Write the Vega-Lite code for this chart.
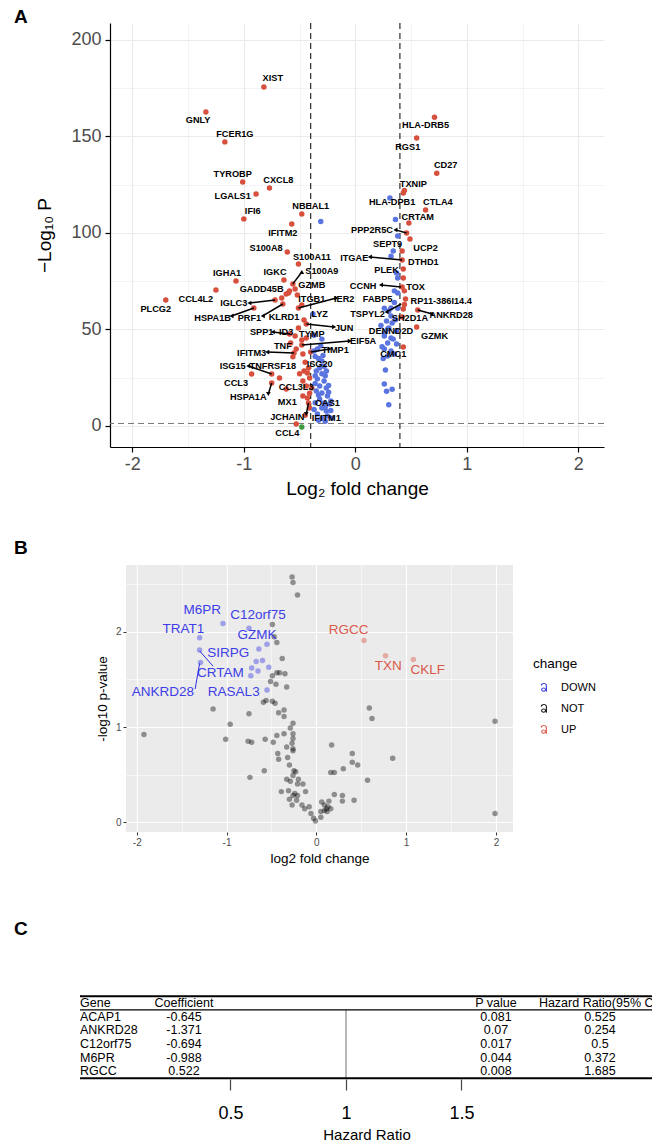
{
"$schema": "https://vega.github.io/schema/vega-lite/v6.json",
"background": "white",
"padding": {"left": 14, "top": 7, "right": 0, "bottom": 0},
"config": {
  "font": "Liberation Sans",
  "view": {"stroke": null},
  "axis": {"labelFont": "Liberation Sans", "titleFont": "Liberation Sans", "titleFontWeight": "normal"},
  "title": {"font": "Liberation Sans", "color": "#000000"},
  "text": {"font": "Liberation Sans"}
},
"datasets": {
  "aPts": [
    {"x":-0.82,"y":175.6,"g":"PL"},{"x":-1.34,"y":162.7,"g":"PL"},{"x":-1.17,"y":147.2,"g":"PL"},{"x":-1.01,"y":126.4,"g":"PL"},{"x":-0.77,"y":123.3,"g":"PL"},{"x":-0.89,"y":120.2,"g":"PL"},{"x":-1.0,"y":107.3,"g":"PL"},{"x":-0.48,"y":109.8,"g":"PL"},{"x":-0.57,"y":104.7,"g":"PL"},{"x":-0.61,"y":90.2,"g":"PL"},{"x":-0.51,"y":83.9,"g":"PL"},{"x":-1.07,"y":75.1,"g":"PL"},{"x":-0.64,"y":75.6,"g":"PL"},{"x":-0.56,"y":73.6,"g":"PL"},{"x":-0.6,"y":68.9,"g":"PL"},{"x":-0.54,"y":71,"g":"PL"},{"x":-1.25,"y":70.5,"g":"PL"},{"x":-1.7,"y":65.3,"g":"PL"},{"x":-0.72,"y":65.3,"g":"PL"},{"x":-0.91,"y":61.1,"g":"PL"},{"x":-0.65,"y":63.2,"g":"PL"},{"x":-0.51,"y":61.1,"g":"PL"},{"x":-0.44,"y":52.8,"g":"PL"},{"x":-0.59,"y":47.7,"g":"PL"},{"x":-0.54,"y":46.6,"g":"PL"},{"x":-0.48,"y":42,"g":"PL"},{"x":-0.4,"y":38.3,"g":"PL"},{"x":-0.55,"y":37.8,"g":"PL"},{"x":-0.75,"y":26.9,"g":"PL"},{"x":-0.93,"y":26.9,"g":"PL"},{"x":-0.75,"y":22.3,"g":"PL"},{"x":-0.68,"y":24.9,"g":"PL"},{"x":-0.62,"y":19.2,"g":"PL"},{"x":-0.42,"y":11.9,"g":"PL"},{"x":-0.53,"y":1.0,"g":"PL"},
    {"x":-0.66,"y":66.3,"g":"PL"},{"x":-0.62,"y":68.4,"g":"PL"},{"x":-0.59,"y":69.9,"g":"PL"},{"x":-0.52,"y":67.9,"g":"PL"},{"x":-0.48,"y":62.7,"g":"PL"},{"x":-0.46,"y":54.9,"g":"PL"},{"x":-0.51,"y":50.8,"g":"PL"},{"x":-0.44,"y":45.6,"g":"PL"},{"x":-0.48,"y":44.6,"g":"PL"},{"x":-0.53,"y":39.9,"g":"PL"},{"x":-0.47,"y":37.3,"g":"PL"},{"x":-0.56,"y":35.8,"g":"PL"},{"x":-0.46,"y":28.5,"g":"PL"},{"x":-0.5,"y":27,"g":"PL"},{"x":-0.43,"y":27.5,"g":"PL"},{"x":-0.41,"y":24.9,"g":"PL"},{"x":-0.47,"y":23.3,"g":"PL"},{"x":-0.44,"y":20.7,"g":"PL"},{"x":-0.39,"y":19.7,"g":"PL"},{"x":-0.47,"y":15.5,"g":"PL"},{"x":-0.43,"y":14.5,"g":"PL"},{"x":-0.41,"y":9.3,"g":"PL"},{"x":-0.45,"y":33,"g":"PL"},{"x":-0.42,"y":30,"g":"PL"},{"x":-0.58,"y":43,"g":"PL"},{"x":-0.41,"y":17,"g":"PL"},{"x":-0.45,"y":5.5,"g":"PL"},
    {"x":0.71,"y":160,"g":"PL"},{"x":0.55,"y":149.2,"g":"PL"},{"x":0.73,"y":131,"g":"PL"},{"x":0.43,"y":120.7,"g":"PL"},{"x":0.44,"y":122,"g":"PL"},{"x":0.63,"y":111.9,"g":"PL"},{"x":0.48,"y":105.2,"g":"PL"},{"x":0.46,"y":100,"g":"PL"},{"x":0.49,"y":96.9,"g":"PL"},{"x":0.42,"y":90.7,"g":"PL"},{"x":0.42,"y":86,"g":"PL"},{"x":0.43,"y":81.3,"g":"PL"},{"x":0.43,"y":76.7,"g":"PL"},{"x":0.42,"y":72,"g":"PL"},{"x":0.44,"y":70,"g":"PL"},{"x":0.45,"y":65.8,"g":"PL"},{"x":0.43,"y":60.6,"g":"PL"},{"x":0.56,"y":60.1,"g":"PL"},{"x":0.42,"y":56.5,"g":"PL"},{"x":0.55,"y":51.3,"g":"PL"},{"x":0.43,"y":40.9,"g":"PL"},{"x":0.44,"y":63,"g":"PL"},
    {"x":-0.48,"y":-0.5,"g":"L"},
    {"x":-0.31,"y":106,"g":"P"},{"x":-0.38,"y":58,"g":"P"},{"x":-0.3,"y":45,"g":"P"},{"x":-0.37,"y":38.9,"g":"P"},{"x":-0.34,"y":39.9,"g":"P"},{"x":-0.3,"y":33.7,"g":"P"},{"x":-0.32,"y":30,"g":"P"},{"x":-0.35,"y":28.5,"g":"P"},{"x":-0.3,"y":27,"g":"P"},{"x":-0.34,"y":24.4,"g":"P"},{"x":-0.28,"y":23.3,"g":"P"},{"x":-0.32,"y":20.7,"g":"P"},{"x":-0.26,"y":19.7,"g":"P"},{"x":-0.35,"y":18.1,"g":"P"},{"x":-0.3,"y":17.1,"g":"P"},{"x":-0.25,"y":15.5,"g":"P"},{"x":-0.32,"y":14,"g":"P"},{"x":-0.28,"y":11.9,"g":"P"},{"x":-0.23,"y":11.4,"g":"P"},{"x":-0.3,"y":9.3,"g":"P"},{"x":-0.26,"y":7.8,"g":"P"},{"x":-0.34,"y":6.2,"g":"P"},{"x":-0.25,"y":5.2,"g":"P"},{"x":-0.3,"y":4.1,"g":"P"},{"x":-0.36,"y":36,"g":"P"},{"x":-0.33,"y":35,"g":"P"},{"x":-0.28,"y":31,"g":"P"},{"x":-0.36,"y":22,"g":"P"},{"x":-0.24,"y":21,"g":"P"},{"x":-0.27,"y":26,"g":"P"},{"x":-0.33,"y":16,"g":"P"},{"x":-0.22,"y":13,"g":"P"},{"x":-0.36,"y":12,"g":"P"},{"x":-0.27,"y":9.8,"g":"P"},{"x":-0.22,"y":8,"g":"P"},{"x":-0.33,"y":3,"g":"P"},{"x":-0.27,"y":2.5,"g":"P"},{"x":-0.21,"y":4,"g":"P"},{"x":-0.37,"y":8.5,"g":"P"},{"x":-0.29,"y":36.5,"g":"P"},{"x":-0.31,"y":41.5,"g":"P"},{"x":-0.37,"y":47,"g":"P"},{"x":-0.24,"y":17.5,"g":"P"},{"x":-0.36,"y":26,"g":"P"},{"x":-0.26,"y":28.5,"g":"P"},
    {"x":0.26,"y":61,"g":"P"},{"x":0.3,"y":59.6,"g":"P"},{"x":0.28,"y":54.4,"g":"P"},{"x":0.33,"y":53.4,"g":"P"},{"x":0.29,"y":50.3,"g":"P"},{"x":0.37,"y":49.2,"g":"P"},{"x":0.26,"y":46.6,"g":"P"},{"x":0.32,"y":45.6,"g":"P"},{"x":0.29,"y":43,"g":"P"},{"x":0.37,"y":42.5,"g":"P"},{"x":0.26,"y":39.9,"g":"P"},{"x":0.32,"y":38.9,"g":"P"},{"x":0.35,"y":37.3,"g":"P"},{"x":0.29,"y":36.3,"g":"P"},{"x":0.27,"y":29,"g":"P"},{"x":0.26,"y":21.8,"g":"P"},{"x":0.28,"y":18,"g":"P"},{"x":0.33,"y":19,"g":"P"},{"x":0.3,"y":11,"g":"P"},{"x":0.31,"y":118.1,"g":"P"},{"x":0.36,"y":107,"g":"P"},{"x":0.38,"y":98.4,"g":"P"},{"x":0.34,"y":90.7,"g":"P"},{"x":0.32,"y":88,"g":"P"},{"x":0.37,"y":79.3,"g":"P"},{"x":0.38,"y":76.7,"g":"P"},{"x":0.35,"y":70,"g":"P"},{"x":0.38,"y":68.9,"g":"P"},{"x":0.32,"y":61.1,"g":"P"},{"x":0.32,"y":57,"g":"P"},{"x":0.3,"y":50.8,"g":"P"},{"x":0.26,"y":48.2,"g":"P"},{"x":0.35,"y":64,"g":"P"},{"x":0.24,"y":41,"g":"P"},{"x":0.36,"y":55,"g":"P"},{"x":0.23,"y":52,"g":"P"},{"x":0.34,"y":45,"g":"P"},{"x":0.25,"y":35,"g":"P"},{"x":0.38,"y":61,"g":"P"}
  ],
  "aLabels": [
    {"gene":"XIST","lx":-0.74,"ly":180.3},{"gene":"GNLY","lx":-1.41,"ly":158.5},{"gene":"FCER1G","lx":-1.08,"ly":151.3},{"gene":"TYROBP","lx":-1.1,"ly":130.6},{"gene":"CXCL8","lx":-0.69,"ly":127.5},{"gene":"LGALS1","lx":-1.1,"ly":119.2},{"gene":"IFI6","lx":-0.92,"ly":111.4},{"gene":"NBEAL1","lx":-0.4,"ly":114},{"gene":"IFITM2","lx":-0.65,"ly":100},{"gene":"S100A8","lx":-0.8,"ly":92.2},{"gene":"S100A11","lx":-0.39,"ly":87.6},{"gene":"IGHA1","lx":-1.15,"ly":79.3},{"gene":"IGKC","lx":-0.72,"ly":79.8},{"gene":"S100A9","lx":-0.3,"ly":80.3},{"gene":"GADD45B","lx":-0.84,"ly":71},{"gene":"GZMB","lx":-0.39,"ly":73.1},{"gene":"CCL4L2","lx":-1.43,"ly":65.8},{"gene":"PLCG2","lx":-1.79,"ly":60.6},{"gene":"IGLC3","lx":-1.09,"ly":63.7},{"gene":"HSPA1B","lx":-1.28,"ly":56},{"gene":"PRF1","lx":-0.95,"ly":56},{"gene":"KLRD1","lx":-0.64,"ly":56.5},{"gene":"ITGB1","lx":-0.39,"ly":65.8},{"gene":"IER2","lx":-0.1,"ly":65.8},{"gene":"LYZ","lx":-0.32,"ly":58},{"gene":"JUN","lx":-0.1,"ly":50.8},{"gene":"SPP1","lx":-0.84,"ly":48.7},{"gene":"ID3","lx":-0.62,"ly":48.7},{"gene":"TYMP","lx":-0.39,"ly":47.7},{"gene":"EIF5A","lx":0.07,"ly":44},{"gene":"DENND2D","lx":0.32,"ly":49.2},{"gene":"GZMK","lx":0.71,"ly":46.6},{"gene":"CMC1","lx":0.34,"ly":37.3},{"gene":"TNF","lx":-0.65,"ly":41.5},{"gene":"TIMP1","lx":-0.18,"ly":39.4},{"gene":"IFITM3","lx":-0.93,"ly":37.8},{"gene":"ISG15","lx":-1.1,"ly":31.1},{"gene":"TNFRSF18","lx":-0.74,"ly":31.1},{"gene":"ISG20","lx":-0.32,"ly":32.1},{"gene":"CCL3","lx":-1.07,"ly":22.3},{"gene":"CCL3L3","lx":-0.53,"ly":20.2},{"gene":"HSPA1A","lx":-0.96,"ly":15},{"gene":"MX1","lx":-0.61,"ly":12.4},{"gene":"OAS1","lx":-0.25,"ly":11.9},{"gene":"JCHAIN","lx":-0.61,"ly":4.7},{"gene":"IFITM1","lx":-0.26,"ly":4.1},{"gene":"CCL4","lx":-0.61,"ly":-3.6},
    {"gene":"HLA-DRB5","lx":0.63,"ly":156},{"gene":"RGS1","lx":0.47,"ly":144.6},{"gene":"CD27","lx":0.81,"ly":135.2},{"gene":"TXNIP","lx":0.52,"ly":125.4},{"gene":"HLA-DPB1","lx":0.33,"ly":116},{"gene":"CTLA4","lx":0.74,"ly":116},{"gene":"CRTAM","lx":0.56,"ly":108.3},{"gene":"PPP2R5C","lx":0.15,"ly":101.6},{"gene":"SEPT9","lx":0.29,"ly":94.3},{"gene":"UCP2","lx":0.63,"ly":92.2},{"gene":"ITGAE","lx":-0.01,"ly":87},{"gene":"DTHD1","lx":0.61,"ly":85},{"gene":"PLEK","lx":0.28,"ly":80.8},{"gene":"CCNH","lx":0.07,"ly":72.5},{"gene":"TOX","lx":0.54,"ly":72},{"gene":"FABP5","lx":0.2,"ly":65.8},{"gene":"RP11-386I14.4","lx":0.77,"ly":64.8},{"gene":"TSPYL2","lx":0.11,"ly":58},{"gene":"SH2D1A","lx":0.49,"ly":56},{"gene":"ANKRD28","lx":0.86,"ly":57.5}
  ],
  "aArrows": [
    {"x":-0.56,"y":73.6,"ex":-0.48,"ey":79.8,"dir":"up"},{"x":-0.72,"y":65.3,"ex":-0.95,"ey":63.7,"dir":"left"},{"x":-0.91,"y":61.1,"ex":-1.11,"ey":57,"dir":"left"},{"x":-0.65,"y":63.2,"ex":-0.83,"ey":57,"dir":"left"},{"x":-0.51,"y":61.1,"ex":-0.17,"ey":66.3,"dir":"right"},{"x":-0.44,"y":52.8,"ex":-0.19,"ey":51.3,"dir":"right"},{"x":-0.59,"y":47.7,"ex":-0.74,"ey":48.7,"dir":"left"},{"x":-0.48,"y":42,"ex":-0.05,"ey":44,"dir":"right"},{"x":-0.4,"y":38.3,"ex":-0.23,"ey":39.9,"dir":"right"},{"x":-0.55,"y":37.8,"ex":-0.79,"ey":38.3,"dir":"left"},{"x":-0.75,"y":26.9,"ex":-0.96,"ey":31.1,"dir":"left"},{"x":-0.75,"y":22.3,"ex":-0.78,"ey":16.6,"dir":"down"},{"x":-0.42,"y":11.9,"ex":-0.44,"ey":6.2,"dir":"down"},{"x":0.46,"y":100,"ex":0.36,"ey":101.6,"dir":"left"},{"x":0.42,"y":86,"ex":0.13,"ey":87.6,"dir":"left"},{"x":0.41,"y":72,"ex":0.23,"ey":73.1,"dir":"left"},{"x":0.41,"y":63.2,"ex":0.28,"ey":59.1,"dir":"left"},{"x":0.56,"y":60.1,"ex":0.69,"ey":58,"dir":"right"}
  ],
  "bPts": [
    {"x":-1.3,"y":1.94,"change":"DOWN"},{"x":-1.04,"y":2.09,"change":"DOWN"},{"x":-0.75,"y":2.04,"change":"DOWN"},{"x":-1.3,"y":1.81,"change":"DOWN"},{"x":-1.29,"y":1.68,"change":"DOWN"},{"x":-0.55,"y":1.87,"change":"DOWN"},{"x":-0.64,"y":1.82,"change":"DOWN"},{"x":-0.67,"y":1.69,"change":"DOWN"},{"x":-0.6,"y":1.7,"change":"DOWN"},{"x":-0.53,"y":1.63,"change":"DOWN"},{"x":-0.72,"y":1.62,"change":"DOWN"},{"x":-0.65,"y":1.59,"change":"DOWN"},{"x":-0.73,"y":1.54,"change":"DOWN"},{"x":-0.55,"y":1.39,"change":"DOWN"},
    {"x":0.53,"y":1.91,"change":"UP"},{"x":0.77,"y":1.75,"change":"UP"},{"x":1.08,"y":1.71,"change":"UP"},
    {"x":-0.27,"y":2.58,"change":"NOT"},{"x":-0.26,"y":2.52,"change":"NOT"},{"x":-0.21,"y":2.39,"change":"NOT"},{"x":-0.49,"y":2.08,"change":"NOT"},{"x":-0.47,"y":1.95,"change":"NOT"},{"x":-0.44,"y":1.89,"change":"NOT"},{"x":-0.38,"y":1.72,"change":"NOT"},{"x":-0.44,"y":1.57,"change":"NOT"},{"x":-0.41,"y":1.57,"change":"NOT"},{"x":-0.35,"y":1.56,"change":"NOT"},{"x":-0.49,"y":1.54,"change":"NOT"},{"x":-0.51,"y":1.48,"change":"NOT"},{"x":-0.45,"y":1.45,"change":"NOT"},{"x":-0.33,"y":1.42,"change":"NOT"},{"x":-0.56,"y":1.28,"change":"NOT"},{"x":-0.59,"y":1.26,"change":"NOT"},{"x":-0.49,"y":1.27,"change":"NOT"},{"x":-0.46,"y":1.25,"change":"NOT"},{"x":-1.15,"y":1.19,"change":"NOT"},{"x":-0.75,"y":1.14,"change":"NOT"},{"x":-0.42,"y":1.15,"change":"NOT"},{"x":-0.36,"y":1.18,"change":"NOT"},{"x":-0.36,"y":1.11,"change":"NOT"},{"x":-0.96,"y":1.03,"change":"NOT"},{"x":-0.26,"y":1.04,"change":"NOT"},{"x":-0.29,"y":0.99,"change":"NOT"},{"x":-1.92,"y":0.92,"change":"NOT"},{"x":-0.26,"y":0.93,"change":"NOT"},{"x":-0.36,"y":0.93,"change":"NOT"},{"x":-0.44,"y":0.91,"change":"NOT"},{"x":-0.26,"y":0.88,"change":"NOT"},{"x":-1.01,"y":0.87,"change":"NOT"},{"x":-0.76,"y":0.85,"change":"NOT"},{"x":-0.72,"y":0.84,"change":"NOT"},{"x":-0.57,"y":0.87,"change":"NOT"},{"x":-0.48,"y":0.84,"change":"NOT"},{"x":-0.27,"y":0.83,"change":"NOT"},{"x":-0.33,"y":0.79,"change":"NOT"},{"x":-0.26,"y":0.77,"change":"NOT"},{"x":-0.26,"y":0.75,"change":"NOT"},{"x":-0.43,"y":0.72,"change":"NOT"},{"x":-0.42,"y":0.66,"change":"NOT"},{"x":-0.32,"y":0.68,"change":"NOT"},{"x":0.17,"y":0.81,"change":"NOT"},{"x":0.4,"y":0.72,"change":"NOT"},{"x":0.4,"y":0.63,"change":"NOT"},{"x":0.46,"y":0.6,"change":"NOT"},{"x":0.3,"y":0.56,"change":"NOT"},{"x":0.85,"y":0.67,"change":"NOT"},{"x":0.16,"y":0.52,"change":"NOT"},{"x":0.2,"y":0.52,"change":"NOT"},{"x":-0.58,"y":0.54,"change":"NOT"},{"x":-0.74,"y":0.47,"change":"NOT"},{"x":-0.3,"y":0.6,"change":"NOT"},{"x":-0.25,"y":0.54,"change":"NOT"},{"x":-0.23,"y":0.53,"change":"NOT"},{"x":-0.26,"y":0.49,"change":"NOT"},{"x":-0.33,"y":0.45,"change":"NOT"},{"x":-0.29,"y":0.43,"change":"NOT"},{"x":-0.2,"y":0.45,"change":"NOT"},{"x":-0.21,"y":0.4,"change":"NOT"},{"x":-0.15,"y":0.4,"change":"NOT"},{"x":0.57,"y":0.44,"change":"NOT"},{"x":-0.39,"y":0.32,"change":"NOT"},{"x":-0.31,"y":0.33,"change":"NOT"},{"x":-0.26,"y":0.28,"change":"NOT"},{"x":-0.21,"y":0.28,"change":"NOT"},{"x":-0.12,"y":0.32,"change":"NOT"},{"x":-0.24,"y":0.3,"change":"NOT"},{"x":-0.3,"y":0.24,"change":"NOT"},{"x":-0.22,"y":0.23,"change":"NOT"},{"x":-0.27,"y":0.18,"change":"NOT"},{"x":-0.16,"y":0.18,"change":"NOT"},{"x":-0.13,"y":0.14,"change":"NOT"},{"x":-0.08,"y":0.16,"change":"NOT"},{"x":-0.06,"y":0.09,"change":"NOT"},{"x":-0.03,"y":0.04,"change":"NOT"},{"x":-0.01,"y":0.01,"change":"NOT"},{"x":0.05,"y":0.05,"change":"NOT"},{"x":0.05,"y":0.11,"change":"NOT"},{"x":0.06,"y":0.21,"change":"NOT"},{"x":0.09,"y":0.18,"change":"NOT"},{"x":0.11,"y":0.14,"change":"NOT"},{"x":0.13,"y":0.16,"change":"NOT"},{"x":0.14,"y":0.22,"change":"NOT"},{"x":0.16,"y":0.14,"change":"NOT"},{"x":0.12,"y":0.11,"change":"NOT"},{"x":0.09,"y":0.12,"change":"NOT"},{"x":0.2,"y":0.29,"change":"NOT"},{"x":0.29,"y":0.28,"change":"NOT"},{"x":0.29,"y":0.22,"change":"NOT"},{"x":0.42,"y":0.23,"change":"NOT"},{"x":0.59,"y":1.2,"change":"NOT"},{"x":0.62,"y":1.09,"change":"NOT"},{"x":1.99,"y":1.06,"change":"NOT"},{"x":1.99,"y":0.09,"change":"NOT"}
  ],
  "bLabels": [
    {"gene":"M6PR","x":-1.27,"y":2.23,"change":"DOWN"},{"gene":"C12orf75","x":-0.65,"y":2.18,"change":"DOWN"},{"gene":"TRAT1","x":-1.48,"y":2.03,"change":"DOWN"},{"gene":"GZMK","x":-0.66,"y":1.97,"change":"DOWN"},{"gene":"SIRPG","x":-0.98,"y":1.78,"change":"DOWN"},{"gene":"CRTAM","x":-1.07,"y":1.57,"change":"DOWN"},{"gene":"ANKRD28","x":-1.71,"y":1.37,"change":"DOWN"},{"gene":"RASAL3","x":-0.92,"y":1.37,"change":"DOWN"},{"gene":"RGCC","x":0.36,"y":2.02,"change":"UP"},{"gene":"TXN","x":0.8,"y":1.64,"change":"UP"},{"gene":"CKLF","x":1.24,"y":1.6,"change":"UP"}
  ],
  "bSegs": [
    {"x":-1.3,"y":1.8,"x2":-1.15,"y2":1.64,"change":"DOWN"},{"x":-1.3,"y":1.67,"x2":-1.35,"y2":1.4,"change":"DOWN"}
  ],
  "cTable": [
    {"row":0,"Gene":"Gene","Coefficient":"Coefficient","P value":"P value","HR":"Hazard Ratio(95% CI)"},
    {"row":1,"Gene":"ACAP1","Coefficient":"-0.645","P value":"0.081","HR":"0.525"},
    {"row":2,"Gene":"ANKRD28","Coefficient":"-1.371","P value":"0.07","HR":"0.254"},
    {"row":3,"Gene":"C12orf75","Coefficient":"-0.694","P value":"0.017","HR":"0.5"},
    {"row":4,"Gene":"M6PR","Coefficient":"-0.988","P value":"0.044","HR":"0.372"},
    {"row":5,"Gene":"RGCC","Coefficient":"0.522","P value":"0.008","HR":"1.685"}
  ]
},
"columns": 1,
"spacing": 40,
"resolve": {"scale": {"color": "independent", "shape": "independent", "x": "independent", "y": "independent"}, "legend": {"color": "independent"}},
"concat": [
  {
  "spacing": 0,
  "resolve": {"scale": {"color": "independent", "shape": "independent", "x": "independent", "y": "independent"}},
  "hconcat": [
  {
    "width": 21, "height": 1,
    "title": {"text": "A", "anchor": "start", "frame": "group", "dy": 22, "fontSize": 19, "fontWeight": "bold", "offset": 1, "baseline": "alphabetic"},
    "data": {"values": [{}]},
    "mark": {"type": "point", "opacity": 0}
  },
  {
    "width": 494,
    "height": 424,
    "layer": [
      {
        "data": {"values": [{"v": -0.4}, {"v": 0.4}]},
        "mark": {"type": "rule", "strokeDash": [6, 4], "color": "#000000", "strokeWidth": 1},
        "encoding": {
          "x": {"field": "v", "type": "quantitative",
            "scale": {"domain": [-2.2, 2.23], "nice": false, "zero": false},
            "axis": {"title": "Log₂ fold change", "values": [-2, -1.5, -1, -0.5, 0, 0.5, 1, 1.5, 2],
              "labelExpr": "datum.value % 1 === 0 ? '' + datum.value : ''",
              "grid": true, "gridColor": "#ebebeb",
              "gridWidth": {"condition": {"test": "datum.value % 1 !== 0", "value": 0.6}, "value": 1.2},
              "tickOpacity": {"condition": {"test": "datum.value % 1 !== 0", "value": 0}, "value": 1},
              "domainColor": "#000000", "domainWidth": 1.2, "tickColor": "#000000", "tickSize": 5, "tickWidth": 1.2,
              "labelFontSize": 18, "labelColor": "#4d4d4d", "labelPadding": 3, "labelFlush": false, "labelOverlap": false,
              "titleFontSize": 19, "titleColor": "#000000", "titlePadding": 6}}
        }
      },
      {
        "data": {"values": [{"h": 1.3}]},
        "mark": {"type": "rule", "strokeDash": [6, 4], "color": "#777777", "strokeWidth": 1},
        "encoding": {
          "y": {"field": "h", "type": "quantitative",
            "scale": {"domain": [-10.9, 208.8], "nice": false, "zero": false},
            "axis": {"title": "−Log₁₀ P", "values": [0, 25, 50, 75, 100, 125, 150, 175, 200],
              "labelExpr": "datum.value % 50 === 0 ? '' + datum.value : ''",
              "grid": true, "gridColor": "#ebebeb",
              "gridWidth": {"condition": {"test": "datum.value % 50 !== 0", "value": 0.6}, "value": 1.2},
              "tickOpacity": {"condition": {"test": "datum.value % 50 !== 0", "value": 0}, "value": 1},
              "domainColor": "#000000", "domainWidth": 1.2, "tickColor": "#000000", "tickSize": 5, "tickWidth": 1.2,
              "labelFontSize": 18, "labelColor": "#4d4d4d", "labelPadding": 4, "labelOverlap": false,
              "titleFontSize": 19, "titleColor": "#000000", "titlePadding": 16}}
        }
      },
      {
        "data": {"name": "aPts"},
        "mark": {"type": "circle", "size": 30, "opacity": 1},
        "encoding": {
          "x": {"field": "x", "type": "quantitative"},
          "y": {"field": "y", "type": "quantitative"},
          "color": {"field": "g", "type": "nominal", "scale": {"domain": ["PL", "P", "L"], "range": ["#d7503e", "#5a74e0", "#3e9a3e"]}, "legend": null}
        }
      },
      {
        "data": {"name": "aArrows"},
        "mark": {"type": "rule", "color": "#000000", "strokeWidth": 1.5},
        "encoding": {
          "x": {"field": "x", "type": "quantitative"},
          "y": {"field": "y", "type": "quantitative"},
          "x2": {"field": "ex"},
          "y2": {"field": "ey"}
        }
      },
      {
        "data": {"name": "aArrows"},
        "mark": {"type": "point", "filled": true, "color": "#000000", "size": 22, "opacity": 1},
        "encoding": {
          "x": {"field": "ex", "type": "quantitative"},
          "y": {"field": "ey", "type": "quantitative"},
          "shape": {"field": "dir", "type": "nominal", "scale": {"domain": ["left", "right", "up", "down"], "range": ["triangle-left", "triangle-right", "triangle-up", "triangle-down"]}, "legend": null}
        }
      },
      {
        "data": {"name": "aLabels"},
        "mark": {"type": "text", "fontSize": 9.2, "fontWeight": "bold", "color": "#000000", "align": "center", "baseline": "middle"},
        "encoding": {
          "x": {"field": "lx", "type": "quantitative"},
          "y": {"field": "ly", "type": "quantitative"},
          "text": {"field": "gene", "type": "nominal"}
        }
      }
    ]
  }
  ]
  },
  {
    "columns": 1,
    "spacing": 54,
    "resolve": {"scale": {"color": "independent", "x": "independent", "y": "independent"}, "legend": {"color": "independent"}},
    "concat": [
      {
      "spacing": 0,
      "resolve": {"scale": {"color": "independent", "x": "independent", "y": "independent"}, "legend": {"color": "independent"}},
      "hconcat": [
      {
        "width": 81, "height": 1,
        "title": {"text": "B", "anchor": "start", "frame": "group", "dy": 19, "fontSize": 19, "fontWeight": "bold", "offset": 9, "baseline": "alphabetic"},
        "data": {"values": [{}]},
        "mark": {"type": "point", "opacity": 0}
      },
      {
        "width": 387,
        "height": 267,
        "view": {"fill": "#ebebeb", "stroke": null},
        "layer": [
          {
            "data": {"name": "bPts"},
            "mark": {"type": "circle", "size": 30, "opacity": 0.4},
            "encoding": {
              "x": {"field": "x", "type": "quantitative",
                "scale": {"domain": [-2.12, 2.19], "nice": false, "zero": false},
                "axis": {"title": "log2 fold change", "values": [-2, -1.5, -1, -0.5, 0, 0.5, 1, 1.5, 2],
                  "labelExpr": "datum.value % 1 === 0 ? '' + datum.value : ''",
                  "grid": true, "gridColor": "#ffffff",
                  "gridWidth": {"condition": {"test": "datum.value % 1 !== 0", "value": 0.55}, "value": 1.1},
                  "tickOpacity": {"condition": {"test": "datum.value % 1 !== 0", "value": 0}, "value": 1},
                  "domain": false, "tickColor": "#333333", "tickSize": 3, "tickWidth": 1,
                  "labelFontSize": 10, "labelColor": "#4d4d4d", "labelPadding": 2, "labelFlush": false, "labelOverlap": false,
                  "titleFontSize": 13.5, "titleColor": "#000000", "titlePadding": 4}},
              "y": {"field": "y", "type": "quantitative",
                "scale": {"domain": [-0.105, 2.705], "nice": false, "zero": false},
                "axis": {"title": "-log10 p-value", "values": [0, 0.5, 1, 1.5, 2, 2.5],
                  "labelExpr": "datum.value % 1 === 0 ? '' + datum.value : ''",
                  "grid": true, "gridColor": "#ffffff",
                  "gridWidth": {"condition": {"test": "datum.value % 1 !== 0", "value": 0.55}, "value": 1.1},
                  "tickOpacity": {"condition": {"test": "datum.value % 1 !== 0", "value": 0}, "value": 1},
                  "domain": false, "tickColor": "#333333", "tickSize": 3, "tickWidth": 1,
                  "labelFontSize": 10, "labelColor": "#4d4d4d", "labelPadding": 2, "labelOverlap": false,
                  "titleFontSize": 13.5, "titleColor": "#000000", "titlePadding": 6}},
              "color": {"field": "change", "type": "nominal",
                "scale": {"domain": ["DOWN", "NOT", "UP"], "range": ["#2c2ce6", "#000000", "#d84a38"]},
                "legend": {"title": "change", "orient": "none", "legendX": 407, "legendY": 92,
                  "symbolType": "M-0.58,-0.38 C-0.5,-0.95 0.52,-0.95 0.52,-0.35 L0.32,-0.35 C0.32,-0.72 -0.32,-0.72 -0.38,-0.32 Z M0.32,-0.35 L0.52,-0.35 L0.52,0.75 L0.32,0.75 Z M-0.52,0.37 A0.45,0.38 0 1,1 0.38,0.37 A0.45,0.38 0 1,1 -0.52,0.37 Z M-0.32,0.37 A0.25,0.2 0 1,0 0.18,0.37 A0.25,0.2 0 1,0 -0.32,0.37 Z",
                  "symbolSize": 130, "symbolOpacity": 0.8, "symbolStrokeWidth": 0,
                  "labelFontSize": 11, "labelColor": "#000000", "titleFontSize": 13.5, "titleFontWeight": "normal", "titleColor": "#000000",
                  "rowPadding": 10, "titlePadding": 11, "symbolOffset": 5, "labelOffset": 11}}
            }
          },
          {
            "data": {"name": "bSegs"},
            "mark": {"type": "rule", "strokeWidth": 1},
            "encoding": {
              "x": {"field": "x", "type": "quantitative"},
              "y": {"field": "y", "type": "quantitative"},
              "x2": {"field": "x2"},
              "y2": {"field": "y2"},
              "color": {"field": "change", "type": "nominal"}
            }
          },
          {
            "data": {"name": "bLabels"},
            "mark": {"type": "text", "fontSize": 13.5, "align": "center", "baseline": "middle", "opacity": 0.9},
            "encoding": {
              "x": {"field": "x", "type": "quantitative"},
              "y": {"field": "y", "type": "quantitative"},
              "text": {"field": "gene", "type": "nominal"},
              "color": {"field": "change", "type": "nominal"}
            }
          }
        ]
      }
      ]
      },
      {
      "spacing": 0,
      "resolve": {"scale": {"x": "independent", "y": "independent"}},
      "hconcat": [
      {
        "width": 65, "height": 1,
        "title": {"text": "C", "anchor": "start", "frame": "group", "dy": 19, "fontSize": 19, "fontWeight": "bold", "offset": 9, "baseline": "alphabetic"},
        "data": {"values": [{}]},
        "mark": {"type": "point", "opacity": 0}
      },
      {
        "width": 573,
        "height": 133,
        "resolve": {"scale": {"x": "independent"}},
        "layer": [
          {
            "data": {"values": [{"hr": 1}]},
            "mark": {"type": "rule", "color": "#a0a0a0", "strokeWidth": 1.5},
            "encoding": {
              "x": {"field": "hr", "type": "quantitative",
                "scale": {"domain": [-0.1515, 2.329], "nice": false, "zero": false},
                "axis": {"title": "Hazard Ratio", "values": [0.5, 1, 1.5], "grid": false, "domain": false,
                  "labelExpr": "'' + datum.value",
                  "tickColor": "#444444", "tickSize": 11, "tickWidth": 1.2,
                  "labelFontSize": 18, "labelColor": "#000000", "labelPadding": 14, "labelFlush": false,
                  "titleFontSize": 15, "titleColor": "#000000", "titlePadding": 5}},
              "y": {"datum": 0.5, "type": "quantitative",
                "scale": {"domain": [-4.16, 5.55], "reverse": true, "nice": false, "zero": false}, "axis": null},
              "y2": {"datum": 5.5}
            }
          },
          {
            "data": {"values": [{"r": -0.5}, {"r": 5.5}]},
            "mark": {"type": "rule", "color": "#000000", "strokeWidth": 2},
            "encoding": {"y": {"field": "r", "type": "quantitative"}}
          },
          {
            "data": {"values": [{"r": 0.5}]},
            "mark": {"type": "rule", "color": "#000000", "strokeWidth": 1.3},
            "encoding": {"y": {"field": "r", "type": "quantitative"}}
          },
          {
            "data": {"name": "cTable"},
            "transform": [{"fold": ["Gene"], "as": ["col", "val"]}],
            "mark": {"type": "text", "fontSize": 12.5, "align": "left", "baseline": "middle", "color": "#000000"},
            "encoding": {
              "x": {"field": "col", "type": "ordinal", "scale": {"type": "point", "domain": ["Gene", "Coefficient", "s1", "s2", "P value", "HR"], "range": [0, 520], "padding": 0}, "axis": null},
              "y": {"field": "row", "type": "quantitative"},
              "text": {"field": "val", "type": "nominal"}
            }
          },
          {
            "data": {"name": "cTable"},
            "transform": [{"fold": ["Coefficient", "P value", "HR"], "as": ["col", "val"]}],
            "mark": {"type": "text", "fontSize": 12.5, "align": "center", "baseline": "middle", "color": "#000000", "clip": true},
            "encoding": {
              "x": {"field": "col", "type": "ordinal", "scale": {"type": "point", "domain": ["Gene", "Coefficient", "s1", "s2", "P value", "HR"], "range": [0, 520], "padding": 0}, "axis": null},
              "y": {"field": "row", "type": "quantitative"},
              "text": {"field": "val", "type": "nominal"}
            }
          }
        ]
      }
      ]
      }
    ]
  }
]
}
